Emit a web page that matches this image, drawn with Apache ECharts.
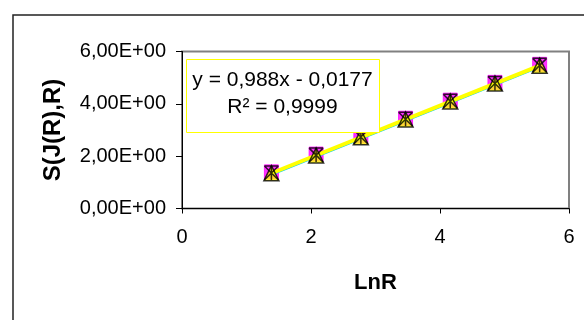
<!DOCTYPE html>
<html><head><meta charset="utf-8">
<script src="https://cdn.jsdelivr.net/npm/echarts@6/dist/echarts.min.js"></script>
<style>html,body{margin:0;padding:0;background:#fff}#c{width:584px;height:320px}</style>
</head><body><div id="c"></div>
<script>
const lnR = [1.386, 2.079, 2.773, 3.466, 4.159, 4.852, 5.545];
const sSquares = [1.40, 2.08, 2.77, 3.45, 4.14, 4.82, 5.51];
const sDiamonds = [1.28, 1.97, 2.65, 3.34, 4.02, 4.71, 5.39];
const sStars = [1.36, 2.04, 2.73, 3.41, 4.10, 4.78, 5.47];
const sTriangles = [1.35, 2.03, 2.72, 3.40, 4.09, 4.78, 5.46];
const xTicks = [0, 2, 4, 6];
const yTicks = [0, 2, 4, 6];
const eqText = 'y = 0,988x - 0,0177';
const r2Text = 'R² = 0,9999';
const xName = 'LnR';
const yName = 'S(J(R),R)';

const FONT = '"Liberation Sans", Arial, sans-serif';
function pairs(ys){ return lnR.map((x,i)=>[x, ys[i]]); }
function fit(ys){
  const n = lnR.length;
  let sx=0, sy=0, sxx=0, sxy=0;
  for(let i=0;i<n;i++){ sx+=lnR[i]; sy+=ys[i]; sxx+=lnR[i]*lnR[i]; sxy+=lnR[i]*ys[i]; }
  const b=(n*sxy-sx*sy)/(n*sxx-sx*sx), a=(sy-b*sx)/n;
  const x0=lnR[0], x1=lnR[n-1];
  return [[x0,a+b*x0],[x1,a+b*x1]];
}
const starPath = 'path://M0,0L10,10M10,0L0,10M5,0L5,10M0,0L10,0';

const chart = echarts.init(document.getElementById('c'), null, {renderer:'canvas'});
chart.setOption({
  animation:false,
  grid:{left:182, right:15, top:51.5, bottom:111.5, show:true, borderColor:'#808080', borderWidth:2, backgroundColor:'transparent'},
  xAxis:{type:'value', min:0, max:6, interval:2,
    name:xName, nameLocation:'middle', nameGap:63,
    nameTextStyle:{fontFamily:FONT, fontSize:22, fontWeight:'bold', color:'#000'},
    axisLine:{show:true, onZero:false, lineStyle:{color:'#000', width:1}},
    axisTick:{show:true, inside:false, length:5, lineStyle:{color:'#000'}},
    axisLabel:{fontFamily:FONT, fontSize:20, color:'#000', margin:19,
      formatter:v=> xTicks.includes(v)? String(v):''},
    splitLine:{show:false}},
  yAxis:{type:'value', min:0, max:6, interval:2,
    name:yName, nameLocation:'middle', nameGap:117, nameRotate:90,
    nameTextStyle:{fontFamily:FONT, fontSize:24, fontWeight:'bold', color:'#000'},
    axisLine:{show:true, onZero:false, lineStyle:{color:'#000', width:1}},
    axisTick:{show:true, inside:false, length:6, lineStyle:{color:'#000'}},
    axisLabel:{fontFamily:FONT, fontSize:20, color:'#000', margin:16,
      formatter:v=> yTicks.includes(v)? v.toFixed(2).replace('.',',')+'E+00':''},
    splitLine:{show:false}},
  series:[
    {type:'scatter', data:pairs(sDiamonds), symbol:'diamond', symbolSize:7, z:2,
      itemStyle:{color:'#000080', borderColor:'#000080', borderWidth:1}},
    {type:'scatter', data:pairs(sSquares), symbol:'rect', symbolSize:14, z:3,
      itemStyle:{color:'#ff00ff', borderColor:'#ff00ff', borderWidth:1}},
    {type:'line', data:fit(sDiamonds), symbol:'none', z:4, lineStyle:{color:'#00ccff', width:1.5}},
    {type:'line', data:fit(sTriangles), symbol:'none', z:5, lineStyle:{color:'#ffff00', width:4}},
    {type:'scatter', data:pairs(sTriangles), symbol:'triangle', symbolSize:15, z:6,
      itemStyle:{color:'#ffff00', borderColor:'#000', borderWidth:1.5}},
    {type:'scatter', data:pairs(sStars), symbol:starPath, symbolSize:14, z:7,
      itemStyle:{color:'rgba(0,0,0,0)', borderColor:'#000', borderWidth:1.5}}
  ],
  graphic:[
    {type:'rect', left:10.5, top:12.5, silent:true, z:-1,
      shape:{x:0,y:0,width:700,height:400},
      style:{fill:'none', stroke:'#222', lineWidth:1.5}},
    {type:'rect', left:186, top:59, z:10,
      shape:{x:0,y:0,width:193,height:73},
      style:{fill:'#fff', stroke:'#ffff00', lineWidth:1}},
    {type:'text', z:11, x:282.5, y:80, style:{text:eqText, font:'21px '+FONT, fill:'#000', align:'center', verticalAlign:'middle'}},
    {type:'text', z:11, x:282.5, y:107, style:{text:r2Text, font:'21px '+FONT, fill:'#000', align:'center', verticalAlign:'middle'}}
  ]
});
</script></body></html>
